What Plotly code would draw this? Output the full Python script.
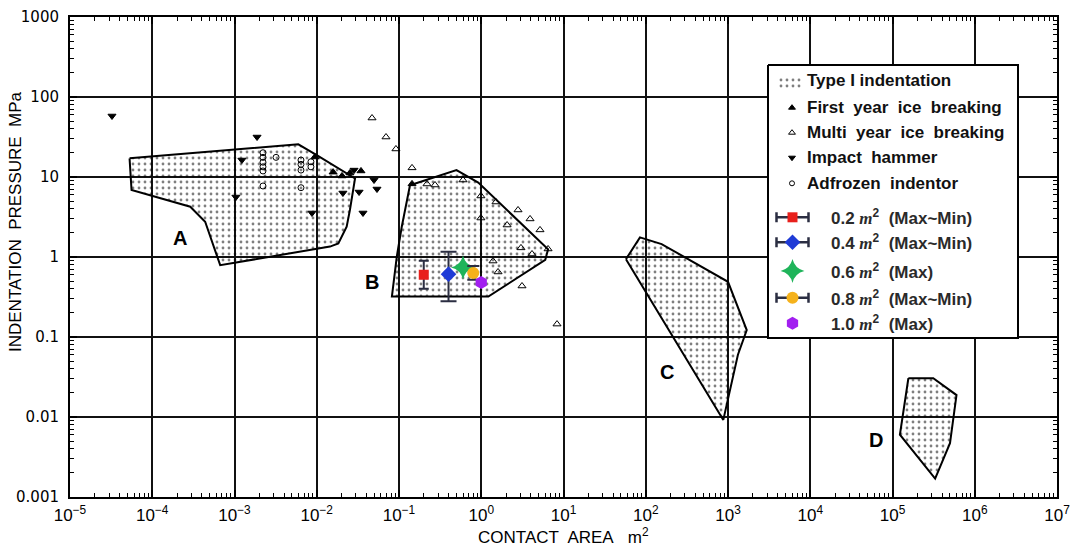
import numpy as np
import plotly.graph_objects as go

# ---------------- data (contact area in m², pressure in MPa) ----------------
# Type I indentation envelopes
region_a_area = [5.3e-5, 5.97e-3, 1.0e-2, 2.92e-2, 2.53e-2, 2.31e-2, 1.83e-2, 1.45e-2, 6.7e-4, 4.4e-4, 2.9e-4, 5.6e-5]
region_a_pressure = [17.1, 25.6, 18.8, 9.6, 3.87, 2.39, 1.48, 1.35, 0.79, 2.76, 4.25, 6.88]
region_b_area = [0.136, 0.50, 0.92, 6.5, 6.0, 1.22, 0.082, 0.094, 0.108]
region_b_pressure = [7.9, 12.2, 8.5, 1.25, 0.92, 0.32, 0.32, 1.01, 2.39]
region_c_area = [57.5, 85.0, 156.0, 1000.0, 1690.0, 1320.0, 877.0]
region_c_pressure = [0.94, 1.76, 1.45, 0.49, 0.122, 0.060, 0.0092]
region_d_area = [1.56e5, 3.13e5, 6.0e5, 5.0e5, 3.3e5, 1.23e5]
region_d_pressure = [0.0305, 0.0305, 0.0188, 0.0047, 0.0017, 0.0060]
region_names = ["A", "B", "C", "D"]
region_label_area = [2.2e-4, 0.047, 181.0, 6.3e4]
region_label_pressure = [1.73, 0.49, 0.0365, 0.0052]

# Field / laboratory data points
first_year_area = [9.5e-3, 0.0158, 0.0203, 0.0253, 0.0345, 0.144]
first_year_pressure = [17.8, 11.5, 10.3, 11.2, 11.9, 8.2]
multi_year_area = [0.047, 0.0695, 0.0918, 0.144, 0.219, 0.274, 0.60, 0.99, 1.51, 0.99, 2.06,
                   2.8, 3.92, 5.18, 3.04, 4.14, 6.49, 1.39, 1.6, 3.13, 8.34]
multi_year_pressure = [54.6, 31.6, 22.4, 13.0, 8.18, 7.94, 9.17, 5.79, 4.87, 3.07, 2.51,
                       3.87, 2.99, 2.18, 1.30, 1.09, 1.26, 0.89, 0.65, 0.434, 0.145]
impact_area = [3.24e-5, 1.88e-3, 1.23e-3, 1.04e-3, 8.75e-3, 0.0208, 0.0284, 0.0497, 0.054, 0.0327, 0.0365]
impact_pressure = [57.9, 31.6, 16.3, 5.62, 3.55, 6.31, 12.2, 9.17, 7.08, 6.49, 3.55]
adfrozen_area = [2.22e-3, 2.22e-3, 2.22e-3, 2.22e-3, 2.22e-3, 3.2e-3, 2.22e-3,
                 6.43e-3, 6.43e-3, 6.43e-3, 8.5e-3, 8.5e-3, 6.43e-3]
adfrozen_pressure = [20.1, 17.6, 15.3, 13.4, 11.9, 17.6, 7.72, 16.3, 14.4, 12.2, 15.5, 13.4, 7.35]

# Indentation tests of this study
test_area = [0.2, 0.4, 0.6, 0.8, 1.0]
test_pressure = [0.60, 0.61, 0.74, 0.63, 0.48]
test_max = [0.90, 1.16, None, 0.77, None]
test_min = [0.40, 0.28, None, 0.52, None]
test_labels = ["0.2", "0.4", "0.6", "0.8", "1.0"]
test_kind = ["(Max~Min)", "(Max~Min)", "(Max)", "(Max~Min)", "(Max)"]
test_colors = ["#e8201c", "#1f3bd6", "#1fb45a", "#f5b21c", "#a21ff0"]
test_symbols = ["square", "diamond", "star-diamond", "circle", "hexagon"]
test_sizes = [10, 12, 17, 12, 13]
test_caps = [5, 8, 0, 6, 0]

# Axis ticks
area_ticks = [1e-5, 1e-4, 1e-3, 1e-2, 1e-1, 1e0, 1e1, 1e2, 1e3, 1e4, 1e5, 1e6, 1e7]
area_tick_labels = ["10<sup>−5</sup>", "10<sup>−4</sup>", "10<sup>−3</sup>", "10<sup>−2</sup>",
                    "10<sup>−1</sup>", "10<sup>0</sup>", "10<sup>1</sup>", "10<sup>2</sup>",
                    "10<sup>3</sup>", "10<sup>4</sup>", "10<sup>5</sup>", "10<sup>6</sup>",
                    "10<sup>7</sup>"]
pressure_ticks = [1e-3, 1e-2, 1e-1, 1e0, 1e1, 1e2, 1e3]
pressure_tick_labels = ["0.001", "0.01", "0.1", "1", "10", "100", "1000"]

NB = "\u00a0"
legend_point_labels = ["First" + NB + " year" + NB + " ice" + NB + " breaking",
                       "Multi" + NB + " year" + NB + " ice" + NB + " breaking",
                       "Impact" + NB + " hammer",
                       "Adfrozen" + NB + " indentor"]

# ---------------- figure ----------------
BAR = "#2b2e42"
SANS = "Liberation Sans, Arial, sans-serif"
fig = go.Figure()

pattern = dict(shape=".", fgcolor="black", bgcolor="rgba(0,0,0,0)", size=6, solidity=0.17)
regions = [(region_a_area, region_a_pressure), (region_b_area, region_b_pressure),
           (region_c_area, region_c_pressure), (region_d_area, region_d_pressure)]
for area, pres in regions:
    fig.add_trace(go.Scatter(
        x=list(area) + [area[0]], y=list(pres) + [pres[0]], mode="lines",
        fill="toself", fillcolor="rgba(0,0,0,0)", fillpattern=pattern,
        line=dict(color="black", width=2), hoverinfo="skip", showlegend=False))

point_sets = [
    (first_year_area, first_year_pressure, "triangle-up", 7),
    (multi_year_area, multi_year_pressure, "triangle-up-open", 7),
    (impact_area, impact_pressure, "triangle-down", 7),
    (adfrozen_area, adfrozen_pressure, "circle-open", 6),
]
for area, pres, sym, sz in point_sets:
    fig.add_trace(go.Scatter(
        x=area, y=pres, mode="markers", showlegend=False, hoverinfo="skip",
        marker=dict(symbol=sym, size=sz, color="black", line=dict(color="black", width=1))))

for i in range(len(test_area)):
    err = None
    if test_max[i] is not None:
        err = dict(type="data", symmetric=False,
                   array=[test_max[i] - test_pressure[i]],
                   arrayminus=[test_pressure[i] - test_min[i]],
                   color=BAR, thickness=2, width=test_caps[i])
    fig.add_trace(go.Scatter(
        x=[test_area[i]], y=[test_pressure[i]], mode="markers", showlegend=False,
        hoverinfo="skip", error_y=err,
        marker=dict(symbol=test_symbols[i], size=test_sizes[i], color=test_colors[i],
                    line=dict(width=0))))

# region letters
for name, a, p in zip(region_names, region_label_area, region_label_pressure):
    fig.add_annotation(x=np.log10(a), y=np.log10(p), xref="x", yref="y",
                       text="<b>" + name + "</b>", xanchor="center", yanchor="middle",
                       showarrow=False, font=dict(family=SANS, size=20, color="black"))


# ---------------- key (drawn on an overlay in plot-fraction units) ----------------
def fx(px):
    return (px - 70) / 987.0


def fy(py):
    return (497 - py) / 480.0


# white key panel with frame, drawn above the grid on the overlay axes
box = [(768, 65), (1018, 65), (1018, 338), (768, 338), (768, 65)]
fig.add_trace(go.Scatter(x=[fx(p[0]) for p in box], y=[fy(p[1]) for p in box],
                         xaxis="x2", yaxis="y2", mode="lines", fill="toself",
                         fillcolor="white", line=dict(color="black", width=2),
                         hoverinfo="skip", showlegend=False))

row_y = [81.0, 107.7, 132.7, 157.7, 183.3, 217.3, 242.3, 271.0, 297.7, 323.3]

# dotted swatch
sw = [(778, 76), (802, 76), (802, 90), (778, 90), (778, 76)]
fig.add_trace(go.Scatter(x=[fx(p[0]) for p in sw], y=[fy(p[1]) for p in sw],
                         xaxis="x2", yaxis="y2", mode="lines", fill="toself",
                         line=dict(width=0, color="rgba(0,0,0,0)"),
                         fillcolor="rgba(0,0,0,0)", fillpattern=pattern,
                         hoverinfo="skip", showlegend=False))
fig.add_annotation(x=fx(805), y=fy(row_y[0]), xref="paper", yref="paper",
                   xanchor="left", yanchor="middle",
                   text="<b>Type I indentation</b>", showarrow=False,
                   font=dict(family=SANS, size=17, color="#111111"))

for k, (area, pres, sym, sz) in enumerate(point_sets):
    ry = row_y[k + 1]
    fig.add_trace(go.Scatter(x=[fx(792)], y=[fy(ry)], xaxis="x2", yaxis="y2", mode="markers",
                             hoverinfo="skip", showlegend=False,
                             marker=dict(symbol=sym, size=sz - 1, color="black",
                                         line=dict(color="black", width=1))))
    fig.add_annotation(x=fx(805), y=fy(ry), xref="paper", yref="paper",
                       xanchor="left", yanchor="middle",
                       text="<b>" + legend_point_labels[k] + "</b>", showarrow=False,
                       font=dict(family=SANS, size=17, color="#111111"))

for i in range(len(test_area)):
    ry = row_y[5 + i]
    err = None
    if test_max[i] is not None:
        err = dict(type="constant", value=16 / 987.0, color=BAR, thickness=2.5, width=5)
    fig.add_trace(go.Scatter(x=[fx(792.5)], y=[fy(ry)], xaxis="x2", yaxis="y2",
                             mode="markers", hoverinfo="skip", showlegend=False, error_x=err,
                             marker=dict(symbol=test_symbols[i], size=test_sizes[i],
                                         color=test_colors[i], line=dict(width=0))))
    label = (test_labels[i] + " <span style='font-family:Liberation Serif'><i>m</i></span>"
             + "<sup>2</sup>" + NB + " " + test_kind[i])
    fig.add_annotation(x=fx(829), y=fy(ry), xref="paper", yref="paper",
                       xanchor="left", yanchor="middle",
                       text="<b>" + label + "</b>", showarrow=False,
                       font=dict(family=SANS, size=17, color="#2a2a2a"))

# axis titles
fig.add_annotation(x=fx(15), y=fy(222), xref="paper", yref="paper", textangle=-90,
                   xanchor="center", yanchor="middle",
                   text="INDENTATION" + NB + " PRESSURE" + NB + " MPa", showarrow=False,
                   font=dict(family=SANS, size=17, color="black"))
fig.add_annotation(x=fx(563), y=fy(536), xref="paper", yref="paper",
                   xanchor="center", yanchor="middle",
                   text="CONTACT" + NB + " AREA" + NB + NB + " m<sup>2</sup>", showarrow=False,
                   font=dict(family=SANS, size=17, color="black"))

axis_common = dict(
    type="log", showgrid=True, gridcolor="#111111", gridwidth=1.6,
    showline=True, linecolor="black", linewidth=2, mirror="allticks",
    ticks="inside", ticklen=7, tickwidth=1.5, tickcolor="black", zeroline=False,
    minor=dict(ticks="inside", ticklen=4, tickwidth=1, tickcolor="black",
               dtick="D1", showgrid=False),
    tickmode="array", automargin=False,
)

fig.update_layout(
    width=1073, height=547,
    margin=dict(l=70, r=16, t=17, b=50, autoexpand=False),
    paper_bgcolor="white", plot_bgcolor="white",
    showlegend=False, hovermode=False,
    xaxis=dict(axis_common, range=[-5, 7], tickvals=area_ticks, ticktext=area_tick_labels,
               tickfont=dict(family=SANS, size=17, color="black"), ticklabelstandoff=2),
    yaxis=dict(axis_common, range=[-3, 3], tickvals=pressure_ticks,
               ticktext=pressure_tick_labels,
               tickfont=dict(family="DejaVu Sans, sans-serif", size=15, color="black"),
               ticklabelstandoff=6),
    xaxis2=dict(overlaying="x", anchor="y2", range=[0, 1], visible=False, fixedrange=True),
    yaxis2=dict(overlaying="y", anchor="x2", range=[0, 1], visible=False, fixedrange=True),
)

fig.write_html("out.html")
